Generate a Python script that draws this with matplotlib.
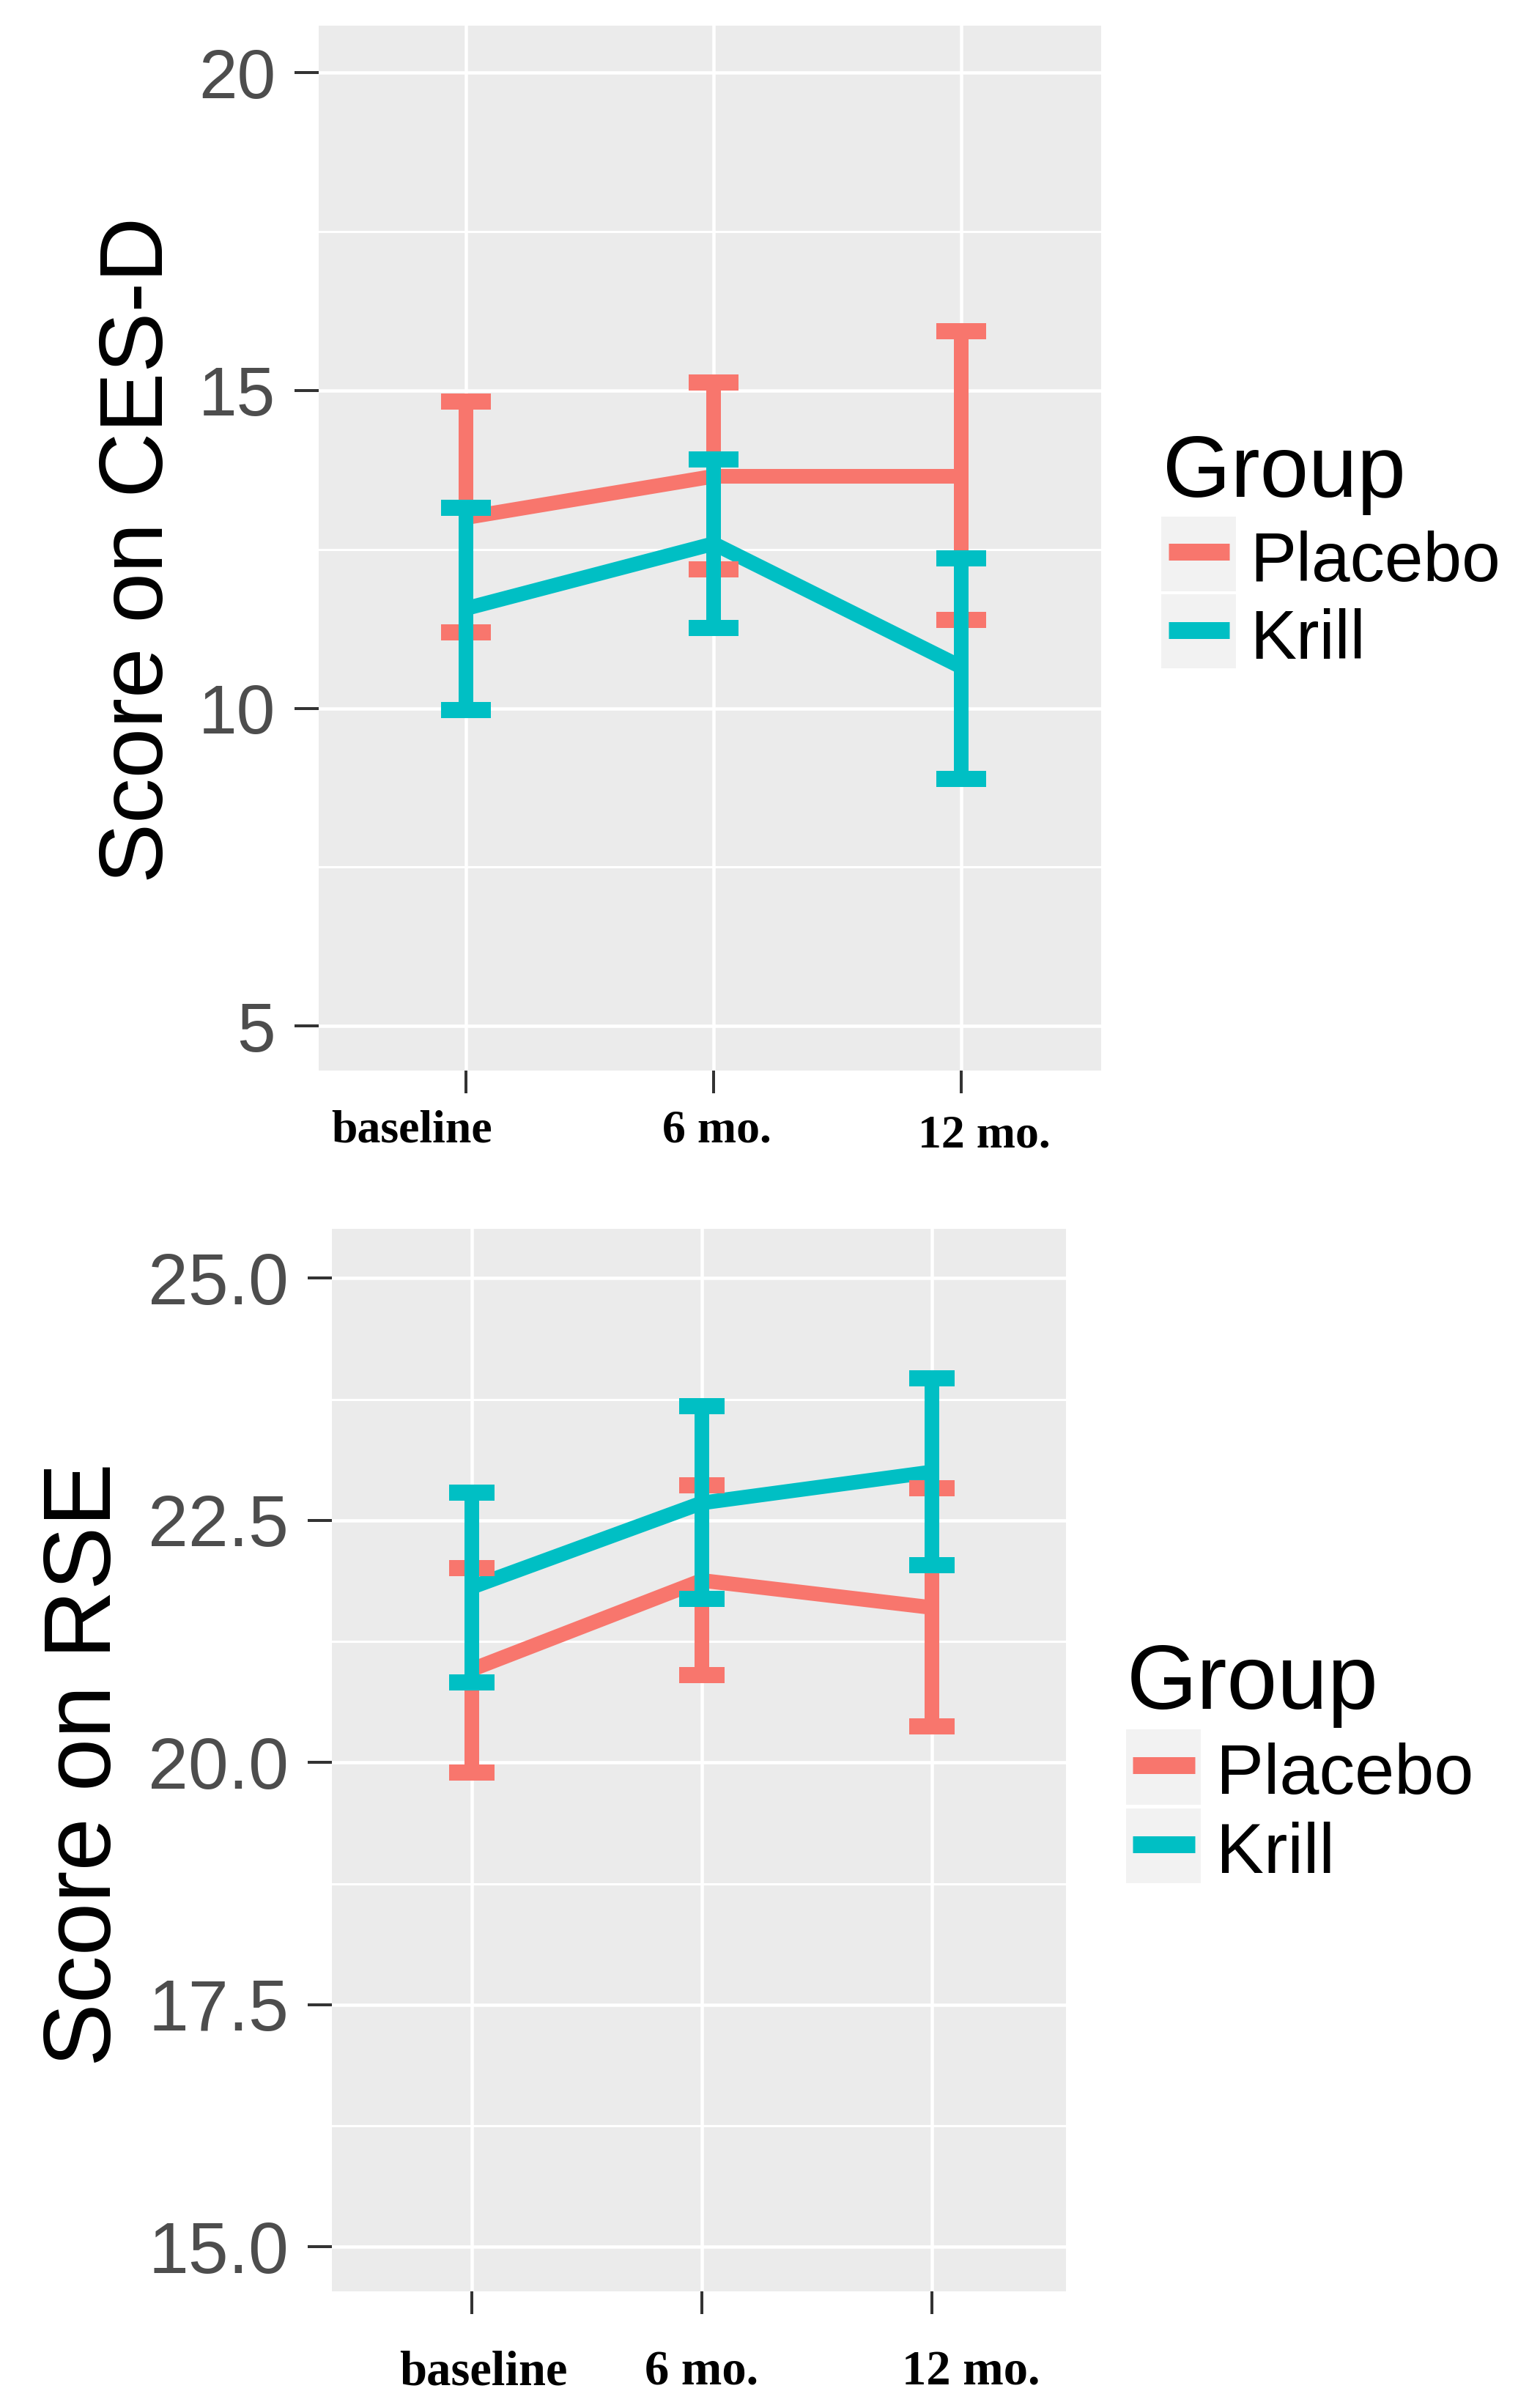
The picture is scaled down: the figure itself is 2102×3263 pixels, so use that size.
import matplotlib
matplotlib.use("Agg")
import matplotlib.pyplot as plt
from matplotlib.patches import Rectangle
from matplotlib.lines import Line2D

# ---------------- data ----------------
timepoints = ["baseline", "6 mo.", "12 mo."]
groups = ["Placebo", "Krill"]

cesd_placebo_mean = [13.00, 13.65, 13.65]
cesd_placebo_low = [11.19, 12.19, 11.39]
cesd_placebo_high = [14.82, 15.13, 15.93]
cesd_krill_mean = [11.57, 12.59, 10.65]
cesd_krill_low = [9.97, 11.26, 8.89]
cesd_krill_high = [13.15, 13.91, 12.36]

rse_placebo_mean = [20.96, 21.88, 21.60]
rse_placebo_low = [19.90, 20.90, 20.37]
rse_placebo_high = [22.01, 22.86, 22.83]
rse_krill_mean = [21.81, 22.68, 23.00]
rse_krill_low = [20.83, 21.69, 22.04]
rse_krill_high = [22.79, 23.68, 23.97]

cesd_yticks = [5, 10, 15, 20]
cesd_yticklabels = ["5", "10", "15", "20"]
rse_yticks = [15.0, 17.5, 20.0, 22.5, 25.0]
rse_yticklabels = ["15.0", "17.5", "20.0", "22.5", "25.0"]

# ---------------- style ----------------
W, H = 2102, 3263
DPI = 100
COLORS = {"Placebo": "#F8766D", "Krill": "#00BFC4"}
PANEL_BG = "#EBEBEB"
KEY_BG = "#F2F2F2"
PX = 72.0 / DPI  # points per pixel

fig = plt.figure(figsize=(W / DPI, H / DPI), dpi=DPI)
fig.patch.set_facecolor("white")


def fx(x):
    return x / W


def fy(y):
    return 1 - y / H


def add_axes_px(l, t, r, b):
    return fig.add_axes([fx(l), fy(b), (r - l) / W, (b - t) / H])


def draw_panel(ax, xlim, ylim, yticks, yticklabels, minor, series, tick_fs):
    x = [1, 2, 3]
    ax.set_facecolor(PANEL_BG)
    ax.set_xlim(*xlim)
    ax.set_ylim(*ylim)
    for s in ax.spines.values():
        s.set_visible(False)
    ax.set_yticks(yticks)
    ax.set_yticklabels(yticklabels, family="Liberation Sans", fontsize=tick_fs, color="#4D4D4D")
    ax.set_yticks(minor, minor=True)
    ax.set_xticks(x)
    ax.set_xticklabels([""] * 3)
    ax.grid(which="major", color="white", linewidth=4.5 * PX)
    ax.grid(which="minor", axis="y", color="white", linewidth=3.0 * PX)
    ax.set_axisbelow(True)
    ax.tick_params(axis="y", which="major", length=33 * PX, width=4 * PX, color="#333333", pad=26 * PX)
    ax.tick_params(axis="x", which="major", length=31 * PX, width=4 * PX, color="#333333")
    ax.tick_params(which="minor", length=0)
    # lines first
    for g, (mean, low, high) in series.items():
        ax.plot(x, mean, color=COLORS[g], linewidth=20 * PX, solid_capstyle="butt",
                solid_joinstyle="round", zorder=3)
    # then error bars
    for g, (mean, low, high) in series.items():
        ax.vlines(x, low, high, colors=COLORS[g], linewidth=20 * PX, capstyle="butt", zorder=4)
        xl = [v - 0.1 for v in x]
        xr = [v + 0.1 for v in x]
        ax.hlines(low, xl, xr, colors=COLORS[g], linewidth=22 * PX, capstyle="butt", zorder=4)
        ax.hlines(high, xl, xr, colors=COLORS[g], linewidth=22 * PX, capstyle="butt", zorder=4)


# ---------------- top panel (CES-D) ----------------
ax1 = add_axes_px(435, 35, 1503, 1461)
draw_panel(ax1, (0.405, 3.565), (4.30, 20.74), cesd_yticks, cesd_yticklabels, [7.5, 12.5, 17.5],
           {"Placebo": (cesd_placebo_mean, cesd_placebo_low, cesd_placebo_high),
            "Krill": (cesd_krill_mean, cesd_krill_low, cesd_krill_high)}, 68)

# ---------------- bottom panel (RSE) ----------------
ax2 = add_axes_px(453, 1677, 1455, 3127)
draw_panel(ax2, (0.392, 3.583), (14.54, 25.51), rse_yticks, rse_yticklabels,
           [16.25, 18.75, 21.25, 23.75],
           {"Placebo": (rse_placebo_mean, rse_placebo_low, rse_placebo_high),
            "Krill": (rse_krill_mean, rse_krill_low, rse_krill_high)}, 71)

# ---------------- axis titles ----------------
fig.text(fx(190), fy(750), "Score on CES-D", rotation=90, ha="center", va="center",
         family="Liberation Sans", fontsize=88.6, color="black")
fig.text(fx(118), fy(2408), "Score on RSE", rotation=90, ha="center", va="center",
         family="Liberation Sans", fontsize=93.6, color="black")

# ---------------- x category labels (bold serif) ----------------
top_label_pos = [(562, 1558), (978, 1558), (1343, 1565)]
bot_label_pos = [(660, 3254), (958, 3254), (1325, 3254)]
for lab, (px_, py_) in zip(timepoints, top_label_pos):
    fig.text(fx(px_), fy(py_), lab, ha="center", va="baseline", family="Liberation Serif",
             fontweight="bold", fontsize=46, color="black")
for lab, (px_, py_) in zip(timepoints, bot_label_pos):
    fig.text(fx(px_), fy(py_), lab, ha="center", va="baseline", family="Liberation Serif",
             fontweight="bold", fontsize=48, color="black")


# ---------------- legends ----------------
def draw_legend(title_xy, title_size, boxes, line_x, line_ys, label_x, label_ys, label_size):
    fig.text(fx(title_xy[0]), fy(title_xy[1]), "Group", ha="left", va="baseline",
             family="Liberation Sans", fontsize=title_size, color="black")
    for (l, t, r, b) in boxes:
        fig.add_artist(Rectangle((fx(l), fy(b)), (r - l) / W, (b - t) / H,
                                 transform=fig.transFigure, facecolor=KEY_BG, edgecolor="none"))
    for g, ly, lby in zip(groups, line_ys, label_ys):
        fig.add_artist(Line2D([fx(line_x[0]), fx(line_x[1])], [fy(ly), fy(ly)],
                              transform=fig.transFigure, color=COLORS[g],
                              linewidth=23 * PX, solid_capstyle="butt"))
        fig.text(fx(label_x), fy(lby), g, ha="left", va="baseline",
                 family="Liberation Sans", fontsize=label_size, color="black")


draw_legend((1587, 678), 86, [(1585, 705, 1687, 807), (1585, 811, 1687, 912)],
            (1595, 1678), [753, 860], 1706, [793, 899], 68)
draw_legend((1538, 2332), 89, [(1537, 2360, 1639, 2463), (1537, 2468, 1639, 2570)],
            (1546, 1631), [2409, 2517], 1660, [2448, 2556], 70)

fig.savefig("out.png", dpi=DPI, facecolor="white")
